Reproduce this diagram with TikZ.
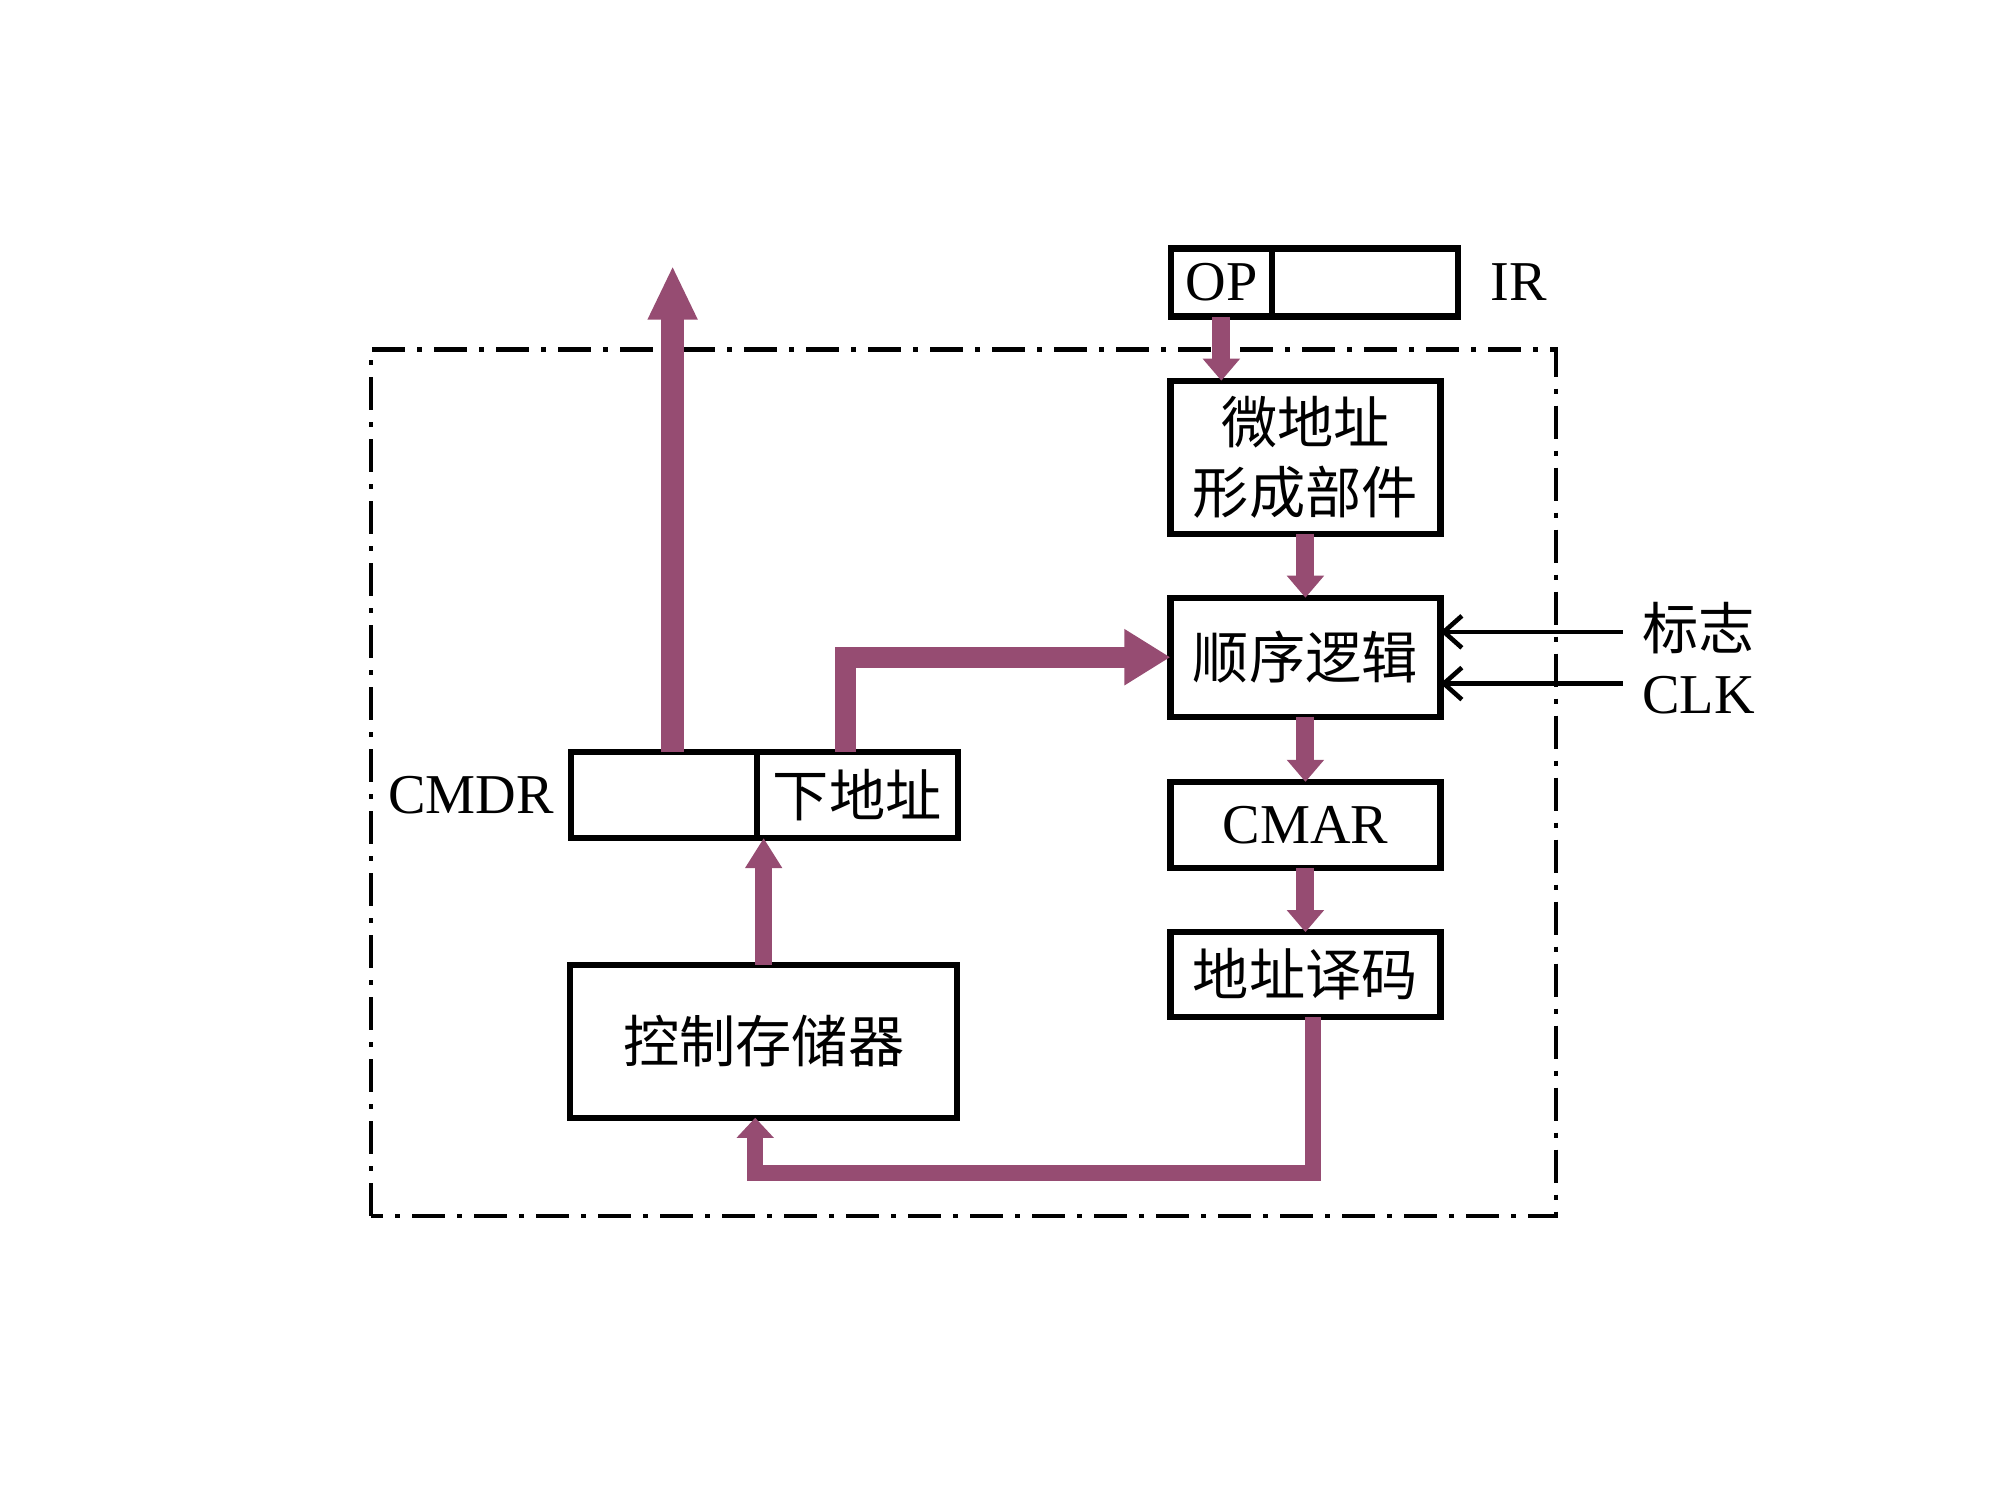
\documentclass[tikz,border=0pt]{standalone}
\usepackage{fontspec}
\setmainfont{Liberation Serif}
\newfontfamily\cjk{Noto Sans CJK SC}
\usetikzlibrary{arrows.meta}
\usetikzlibrary{positioning}
\definecolor{busred}{RGB}{150,76,114}

\begin{document}
\begin{tikzpicture}[x=.995cm, y=.995cm,
    reg/.style={draw, line width=1.8pt, inner sep=0pt, outer sep=0pt,
      align=center, font=\fontsize{16}{20}\selectfont},
    regz/.style={reg, font=\cjk\fontsize{16}{20}\selectfont},
    lbl/.style={inner sep=0pt, font=\fontsize{16}{20}\selectfont},
    lblz/.style={lbl, font=\cjk\fontsize{16}{20}\selectfont},
    bus/.style={draw=busred, line width=#1, line join=miter},
    bus/.default=.18cm,
  ]
  \useasboundingbox (0cm,-.075cm) rectangle (20cm,14.925cm);
  \draw[line width=1.3pt, dash pattern=on .33cm off .12cm on .05cm off .12cm]
    (3.73,2.78) rectangle (15.64,11.49);

  \node (op) [reg, minimum width=1.01cm, minimum height=.68cm] at (12.275,12.16) {OP};
  \node (irf) [reg, minimum width=1.86cm, minimum height=.68cm, anchor=west] at (op.east) {};
  \node (ir) [lbl, right=3.2mm of irf] {IR};

  \node (wd) [regz, minimum width=2.7cm, minimum height=1.53cm] at (13.12,10.405) {微地址\\形成部件};
  \node (sx) [regz, minimum width=2.7cm, minimum height=1.19cm] at (13.12,8.395) {顺序逻辑};
  \node (cmar) [reg, minimum width=2.7cm, minimum height=.86cm] at (13.12,6.71) {CMAR};
  \node (dz) [regz, minimum width=2.7cm, minimum height=.85cm] at (13.12,5.205) {地址译码};

  \node (cmdrl) [reg, minimum width=1.86cm, minimum height=.86cm] at (6.67,7.01) {};
  \node (cmdrr) [regz, minimum width=2.01cm, minimum height=.86cm, anchor=west] at (cmdrl.east) {下地址};
  \node (cmdr) [lbl, left=1.6mm of cmdrl] {CMDR};
  \node (cs) [regz, minimum width=3.87cm, minimum height=1.53cm] at (7.675,4.535) {控制存储器};

  \node (flag) [lblz, anchor=west] at (16.5,8.69) {标志};
  \node (clk) [lbl, anchor=west] at (16.5,8.01) {CLK};

  \coordinate (out) at (6.76,12.33);
  \coordinate (nx) at (8.50,0);
  \coordinate (lp) at (7.59,3.21);
  \coordinate (f1) at (16.31,8.65);
  \coordinate (f2) at (16.31,8.13);

  % micro-address path
  \draw[bus, -{Triangle[width=.36cm,length=.22cm]}] (op.south) -- (op.south |- wd.north);
  \draw[bus, -{Triangle[width=.36cm,length=.22cm]}] (wd.south) -- (sx.north);
  \draw[bus, -{Triangle[width=.36cm,length=.22cm]}] (sx.south) -- (cmar.north);
  \draw[bus, -{Triangle[width=.36cm,length=.22cm]}] (cmar.south) -- (dz.north);
  \draw[bus=.16cm, -{Triangle[width=.36cm,length=.2cm]}]
    ([xshift=.8mm]dz.south) |- (lp) -- (lp |- cs.south);
  \draw[bus=.17cm, -{Triangle[width=.35cm,length=.3cm]}] (cs.north) -- (cs.north |- cmdrr.south);
  \draw[bus=.23cm, -{Triangle[width=.46cm,length=.54cm]}] (out |- cmdrl.north) -- (out);
  \draw[bus=.21cm, -{Triangle[width=.53cm,length=.46cm]}] (nx |- cmdrr.north) |- (sx.west);

  \draw[line width=1.3pt, -{Straight Barb[length=1.8mm,width=3.2mm]}] (f1) -- (f1 -| sx.east);
  \draw[line width=1.3pt, -{Straight Barb[length=1.8mm,width=3.2mm]}] (f2) -- (f2 -| sx.east);
\end{tikzpicture}
\end{document}
